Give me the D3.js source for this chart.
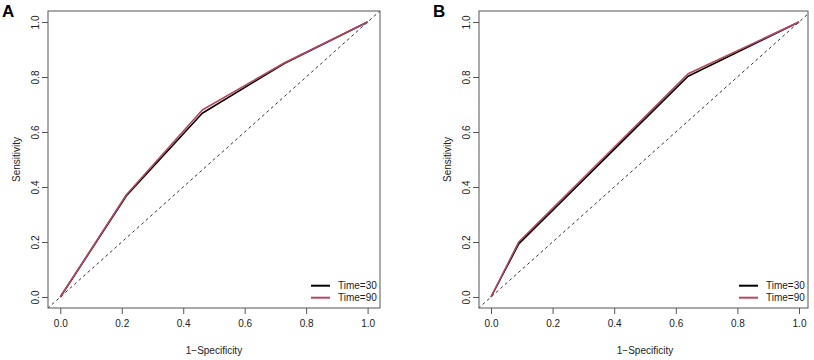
<!DOCTYPE html>
<html>
<head>
<meta charset="utf-8">
<script src="https://cdn.jsdelivr.net/npm/d3@7"></script>
<style>
body{margin:0;background:#fff;}
svg{display:block;font-family:"Liberation Sans",Arial,sans-serif;}
</style>
</head>
<body>
<svg id="chart" width="814" height="360"></svg>
<script>
// ROC points per panel (1-specificity, sensitivity)
const fprA30=[0,0.215,0.462,0.73,1];
const tprA30=[0,0.368,0.668,0.85,1];
const fprA90=[0,0.215,0.462,0.73,1];
const tprA90=[0,0.372,0.68,0.852,1];

const fprB30=[0,0.09,0.64,1];
const tprB30=[0,0.193,0.803,1];
const fprB90=[0,0.09,0.64,1];
const tprB90=[0,0.2,0.812,1];

const ticks=[0,0.2,0.4,0.6,0.8,1.0];
const seriesNames=["Time=30","Time=90"];
const seriesColors=["#000000","#b5475f"];

const svg=d3.select("#chart");

const panels=[
  {label:"A",x0:60.3,x1:367.6,boxL:48,boxR:380,
   series:[[fprA30,tprA30],[fprA90,tprA90]]},
  {label:"B",x0:491,x1:799,boxL:479,boxR:808,
   series:[[fprB30,tprB30],[fprB90,tprB90]]}
];

const boxT=11,boxB=308;

panels.forEach((p,pi)=>{
  const g=svg.append("g");
  const x=d3.scaleLinear().domain([0,1]).range([p.x0,p.x1]);
  const y=d3.scaleLinear().domain([0,1]).range([297,22]);
  const clipId="clip"+pi;

  g.append("clipPath").attr("id",clipId)
    .append("rect").attr("x",p.boxL).attr("y",boxT)
    .attr("width",p.boxR-p.boxL).attr("height",boxB-boxT);

  // reference diagonal
  g.append("line")
    .attr("clip-path",`url(#${clipId})`)
    .attr("x1",x(-0.1)).attr("y1",y(-0.1))
    .attr("x2",x(1.1)).attr("y2",y(1.1))
    .attr("stroke","#333").attr("stroke-width",1)
    .attr("stroke-dasharray","3,3");

  const line=d3.line().x(d=>x(d[0])).y(d=>y(d[1]));
  p.series.forEach((s,i)=>{
    const pts=s[0].map((v,k)=>[v,s[1][k]]);
    g.append("path").datum(pts)
      .attr("d",line)
      .attr("fill","none")
      .attr("stroke",seriesColors[i])
      .attr("stroke-width",1.6)
      .attr("stroke-linejoin","round");
  });

  // box
  g.append("rect").attr("x",p.boxL).attr("y",boxT)
    .attr("width",p.boxR-p.boxL).attr("height",boxB-boxT)
    .attr("fill","none").attr("stroke","#555").attr("stroke-width",1);

  const xa=g.append("g").attr("transform",`translate(0,${boxB})`)
    .call(d3.axisBottom(x).tickValues(ticks).tickFormat(d3.format(".1f")).tickSize(6).tickPadding(6));
  xa.select(".domain").remove();
  xa.selectAll("line").attr("stroke","#555");
  xa.selectAll("text").attr("font-size","10px").attr("fill","#222").attr("font-family","Liberation Sans,Arial,sans-serif");

  const ya=g.append("g").attr("transform",`translate(${p.boxL},0)`)
    .call(d3.axisLeft(y).tickValues(ticks).tickFormat(d3.format(".1f")).tickSize(6));
  ya.select(".domain").remove();
  ya.selectAll("line").attr("stroke","#555");
  ya.selectAll("text")
    .attr("font-size","10px").attr("fill","#222").attr("font-family","Liberation Sans,Arial,sans-serif")
    .attr("x",null).attr("dy",null)
    .attr("text-anchor","middle")
    .attr("transform","translate(-13,0) rotate(-90)")
    .attr("dy","0.35em");

  g.append("text")
    .attr("x",(p.x0+p.x1)/2).attr("y",354)
    .attr("text-anchor","middle").attr("font-size","10px").attr("fill","#222")
    .text("1\u2212Specificity");

  g.append("text")
    .attr("transform",`translate(${p.boxL-32},${(boxT+boxB)/2}) rotate(-90)`)
    .attr("text-anchor","middle").attr("font-size","10px").attr("fill","#222")
    .attr("dy","0.35em")
    .text("Sensitivity");

  g.append("text")
    .attr("x",p.boxL-46).attr("y",17)
    .attr("font-size","17px").attr("font-weight","bold").attr("fill","#000")
    .text(p.label);

  // legend
  const lx=p.boxR-69;
  seriesNames.forEach((n,i)=>{
    const ly=285.7+i*12;
    g.append("line").attr("x1",lx).attr("x2",lx+19)
      .attr("y1",ly).attr("y2",ly)
      .attr("stroke",seriesColors[i]).attr("stroke-width",2);
    g.append("text").attr("x",lx+27).attr("y",ly).attr("dy","0.35em")
      .attr("font-size","10px").attr("fill","#222").text(n);
  });
});
</script>
</body>
</html>
